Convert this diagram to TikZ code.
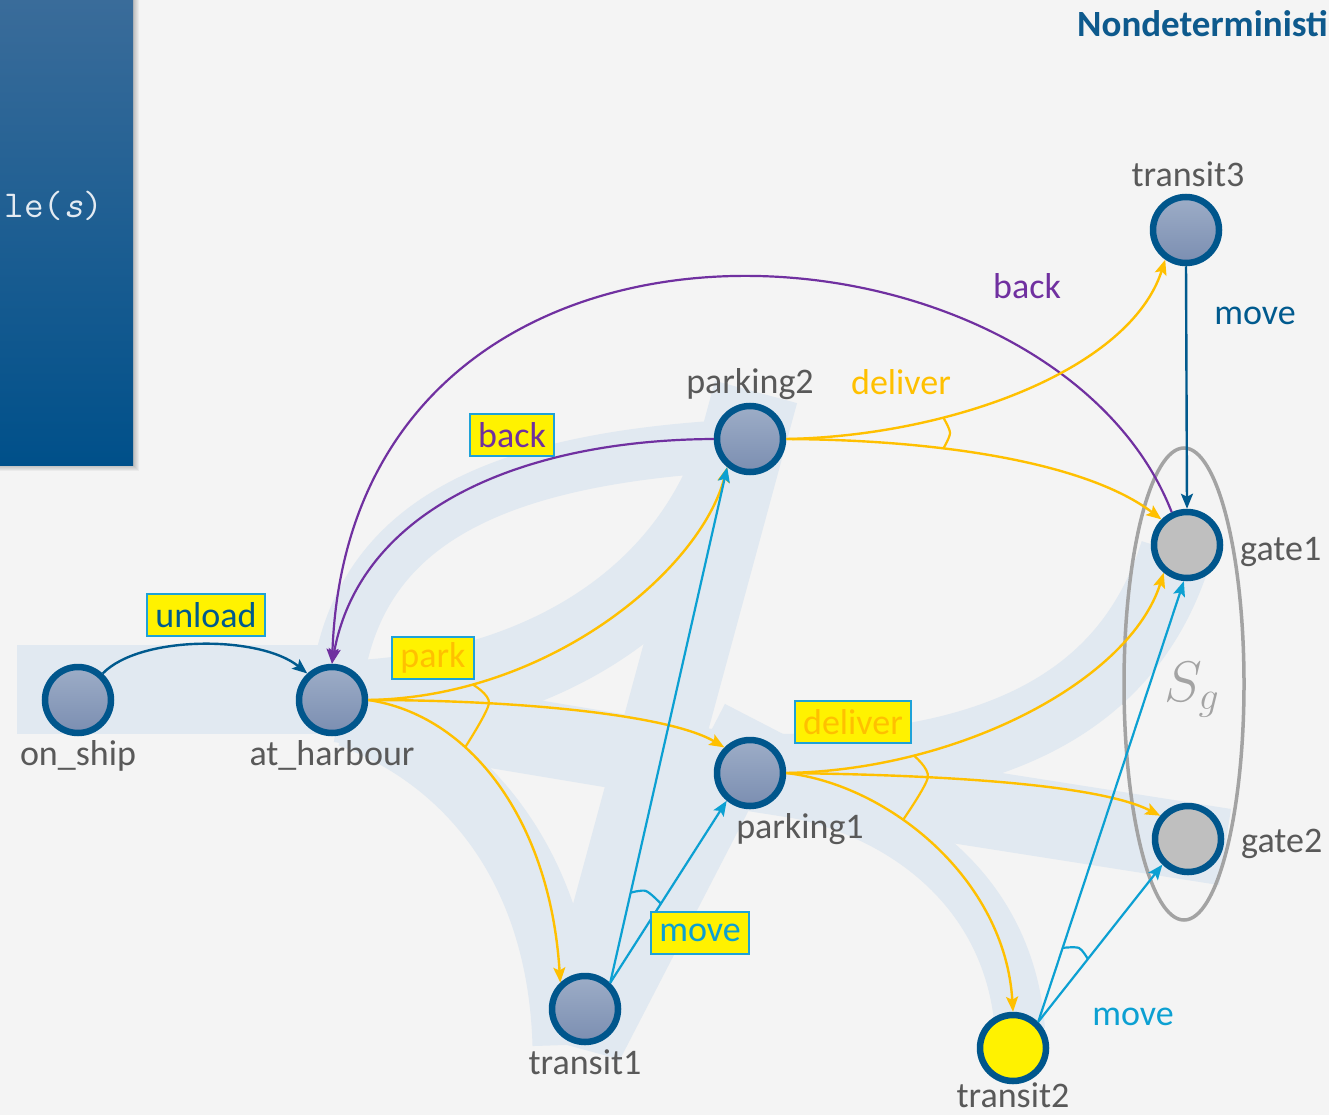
\documentclass[tikz,border=0pt]{standalone}
\usepackage{fontspec}
\setmainfont{Carlito}
\usetikzlibrary{arrows.meta,calc}

\definecolor{canvasbg}{HTML}{F4F4F4}
\definecolor{bandblue}{HTML}{E1E9F1}
\definecolor{nodeblue}{HTML}{00568C}
\definecolor{nodetop}{HTML}{9DADC7}
\definecolor{nodebot}{HTML}{7B8EB1}
\definecolor{goalgray}{HTML}{BFBFBF}
\definecolor{textgray}{HTML}{595959}
\definecolor{actpurple}{HTML}{7030A0}
\definecolor{actorange}{HTML}{FFC000}
\definecolor{actcyan}{HTML}{0CA0D2}
\definecolor{actdark}{HTML}{005A8E}
\definecolor{tagline}{HTML}{1EA2D8}
\definecolor{sgray}{HTML}{A3A3A3}
\definecolor{titleblue}{HTML}{0E5A8D}
\definecolor{paneltop}{HTML}{3A6C9A}
\definecolor{panelbot}{HTML}{00508A}
\definecolor{paneltext}{HTML}{E4EBF2}

\begin{document}
\begin{tikzpicture}[x=1pt,y=-1pt,
  stbase/.style={circle,draw=nodeblue,line width=6.5pt,minimum size=66pt,inner sep=0pt},
  state/.style={stbase,top color=nodetop,bottom color=nodebot},
  goalstate/.style={stbase,fill=goalgray},
  initstate/.style={stbase,fill=yellow},
  big/.style={font=\fontsize{36}{43}\selectfont},
  statename/.style={big,text=textgray,inner sep=0pt,anchor=base},
  freelabel/.style={big,inner sep=0pt,anchor=base},
  tag/.style={big,draw=tagline,line width=2pt,fill=yellow,inner xsep=8.5pt,inner ysep=0pt,minimum height=42pt},
  band/.style={draw=bandblue,line cap=butt},
  arrowtip/.style={-{Stealth[length=15pt,width=12pt,inset=3pt]}},
  act/.style={line width=2.4pt,arrowtip},
  unloadact/.style={act,draw=actdark},
  backact/.style={act,draw=actpurple,line width=2.2pt},
  parkact/.style={act,draw=actorange},
  moveact/.style={act,draw=actcyan,line width=2.2pt},
  gotoact/.style={act,draw=actdark},
  fork/.style={line width=2.2pt}
]
\useasboundingbox (0,0) rectangle (1329,1115);
\clip (0,0) rectangle (1329,1115);
\fill[canvasbg] (0,0) rectangle (1329,1115);

% plan bands underneath the graph
\fill[bandblue] (17,645) rectangle (345,734);
\draw[band,line width=52pt] (335,700) .. controls (350,530) and (480,458) .. (745,445);
\draw[band,line width=80pt] (360,700) .. controls (530,690) and (680,610) .. (735,455);
\draw[band,line width=75pt] (340,705) -- (760,775);
\draw[band,line width=65pt] (350,715) .. controls (470,760) and (560,870) .. (565,1045);
\draw[band,line width=85pt] (578,1048) -- (756,392);
\draw[band,line width=70pt] (588,1045) -- (756,720);
\draw[band,line width=72pt] (770,770) .. controls (1000,770) and (1130,700) .. (1176,552);
\draw[band,line width=77pt] (760,774) -- (1225,847);
\draw[band,line width=50pt] (780,790) .. controls (900,810) and (1010,890) .. (1020,1030);

% side panel with shadow
\foreach \d in {1,...,6} \fill[black,opacity=0.04] (0,0) rectangle (133+\d,465+\d);
\shade[top color=paneltop,bottom color=panelbot] (0,0) rectangle (133,465);
\node[font=\ttfamily\fontsize{38}{44}\selectfont,text=paneltext,anchor=base east,inner sep=0pt] (code) at (103,218) {le(\textit{s})};

% heading
\node[font=\bfseries\fontsize{37}{44}\selectfont,text=titleblue,anchor=base west,inner sep=0pt] (title) at (1077,37) {Nondeterministi};

% goal set
\draw[sgray,line width=3.5pt] (1184,684) ellipse [x radius=60pt, y radius=236pt];
\node[text=sgray,scale=2.3,font=\fontsize{25}{30}\selectfont] (sg) at (1192,690) {$S_g$};

% states
\node[state] (onship) at (78,700) {};
\node[state] (harbour) at (332,700) {};
\node[state] (park2) at (750,439) {};
\node[state] (park1) at (750,773) {};
\node[state] (tr1) at (585,1009) {};
\node[initstate] (tr2) at (1013,1048) {};
\node[state] (tr3) at (1186,230) {};
\node[goalstate] (gate1) at (1187,545) {};
\node[goalstate] (gate2) at (1188,839) {};

\node[statename] (onshipname) at (78,765) {on\_ship};
\node[statename] (harbourname) at (332,765) {at\_harbour};
\node[statename] (park2name) at (750,393) {parking2};
\node[statename] (park1name) at (800,838) {parking1};
\node[statename] (tr1name) at (585,1074) {transit1};
\node[statename] (tr2name) at (1013,1107) {transit2};
\node[statename] (tr3name) at (1188,187) {transit3};
\node[statename,anchor=base west] (gate1name) at (1240,560) {gate1};
\node[statename,anchor=base west] (gate2name) at (1241,852) {gate2};

% unload
\draw[unloadact] (onship.47) .. controls (140,635) and (260,635) .. (harbour.133);

% back
\draw[backact] (park2.west) .. controls (520,440) and (360,510) .. (harbour.north);
\draw[backact] (gate1.115) .. controls (1050,200) and (350,150) .. (harbour.north);

% park (nondeterministic)
\draw[parkact] (harbour.east) .. controls (550,697) and (700,570) .. (park2.231) coordinate[pos=0.2] (parkA);
\draw[parkact] (harbour.east) .. controls (520,700) and (670,715) .. (park1.135) coordinate[pos=0.27] (parkM);
\draw[parkact] (harbour.east) .. controls (470,715) and (550,820) .. (tr1.133) coordinate[pos=0.35] (parkB);
\draw[fork,actorange] plot[smooth] coordinates {(parkA) (parkM) (parkB)};

% deliver from parking1
\draw[parkact] (park1.east) .. controls (960,770) and (1130,680) .. (gate1.230) coordinate[pos=0.25] (dlA);
\draw[parkact] (park1.east) .. controls (950,775) and (1100,785) .. (gate2.140) coordinate[pos=0.3] (dlM);
\draw[parkact] (park1.east) .. controls (890,785) and (1005,880) .. (tr2.north) coordinate[pos=0.38] (dlB);
\draw[fork,actorange] plot[smooth] coordinates {(dlA) (dlM) (dlB)};

% deliver from parking2
\draw[parkact] (park2.east) .. controls (950,436) and (1130,370) .. (tr3.235) coordinate[pos=0.32] (dhA);
\draw[parkact] (park2.east) .. controls (950,440) and (1090,465) .. (gate1.135) coordinate[pos=0.34] (dhB);
\draw[fork,actorange] plot[smooth] coordinates {(dhA) (950,433) (dhB)};

% move from transit1
\draw[moveact] (tr1.46) -- (park2.231) coordinate[pos=0.175] (mvA);
\draw[moveact] (tr1.46) -- (park1.230) coordinate[pos=0.435] (mvB);
\draw[fork,actcyan] plot[smooth] coordinates {(mvA) (646,891) (mvB)};

% move from transit2
\draw[moveact] (tr2.46) -- (gate1.265) coordinate[pos=0.168] (mwA);
\draw[moveact] (tr2.46) -- (gate2.225) coordinate[pos=0.40] (mwB);
\draw[fork,actcyan] plot[smooth] coordinates {(mwA) (1079,948) (mwB)};

% move from transit3
\draw[gotoact] (tr3.south) -- (gate1.north);

% action labels
\node[tag,text=actdark] (unloadtag) at (206,615) {unload};
\node[tag,text=actpurple] (backtag) at (512,435) {back};
\node[tag,text=actorange] (parktag) at (433,658) {park};
\node[tag,text=actorange] (delivertag) at (853,722) {deliver};
\node[tag,text=actcyan] (movetag) at (700,933) {move};

\node[freelabel,text=actpurple] (backlbl) at (1027,298) {back};
\node[freelabel,text=actdark] (movelbl) at (1255,324) {move};
\node[freelabel,text=actorange] (deliverlbl) at (901,394) {deliver};
\node[freelabel,text=actcyan] (movelbltwo) at (1133,1025) {move};
\end{tikzpicture}
\end{document}
